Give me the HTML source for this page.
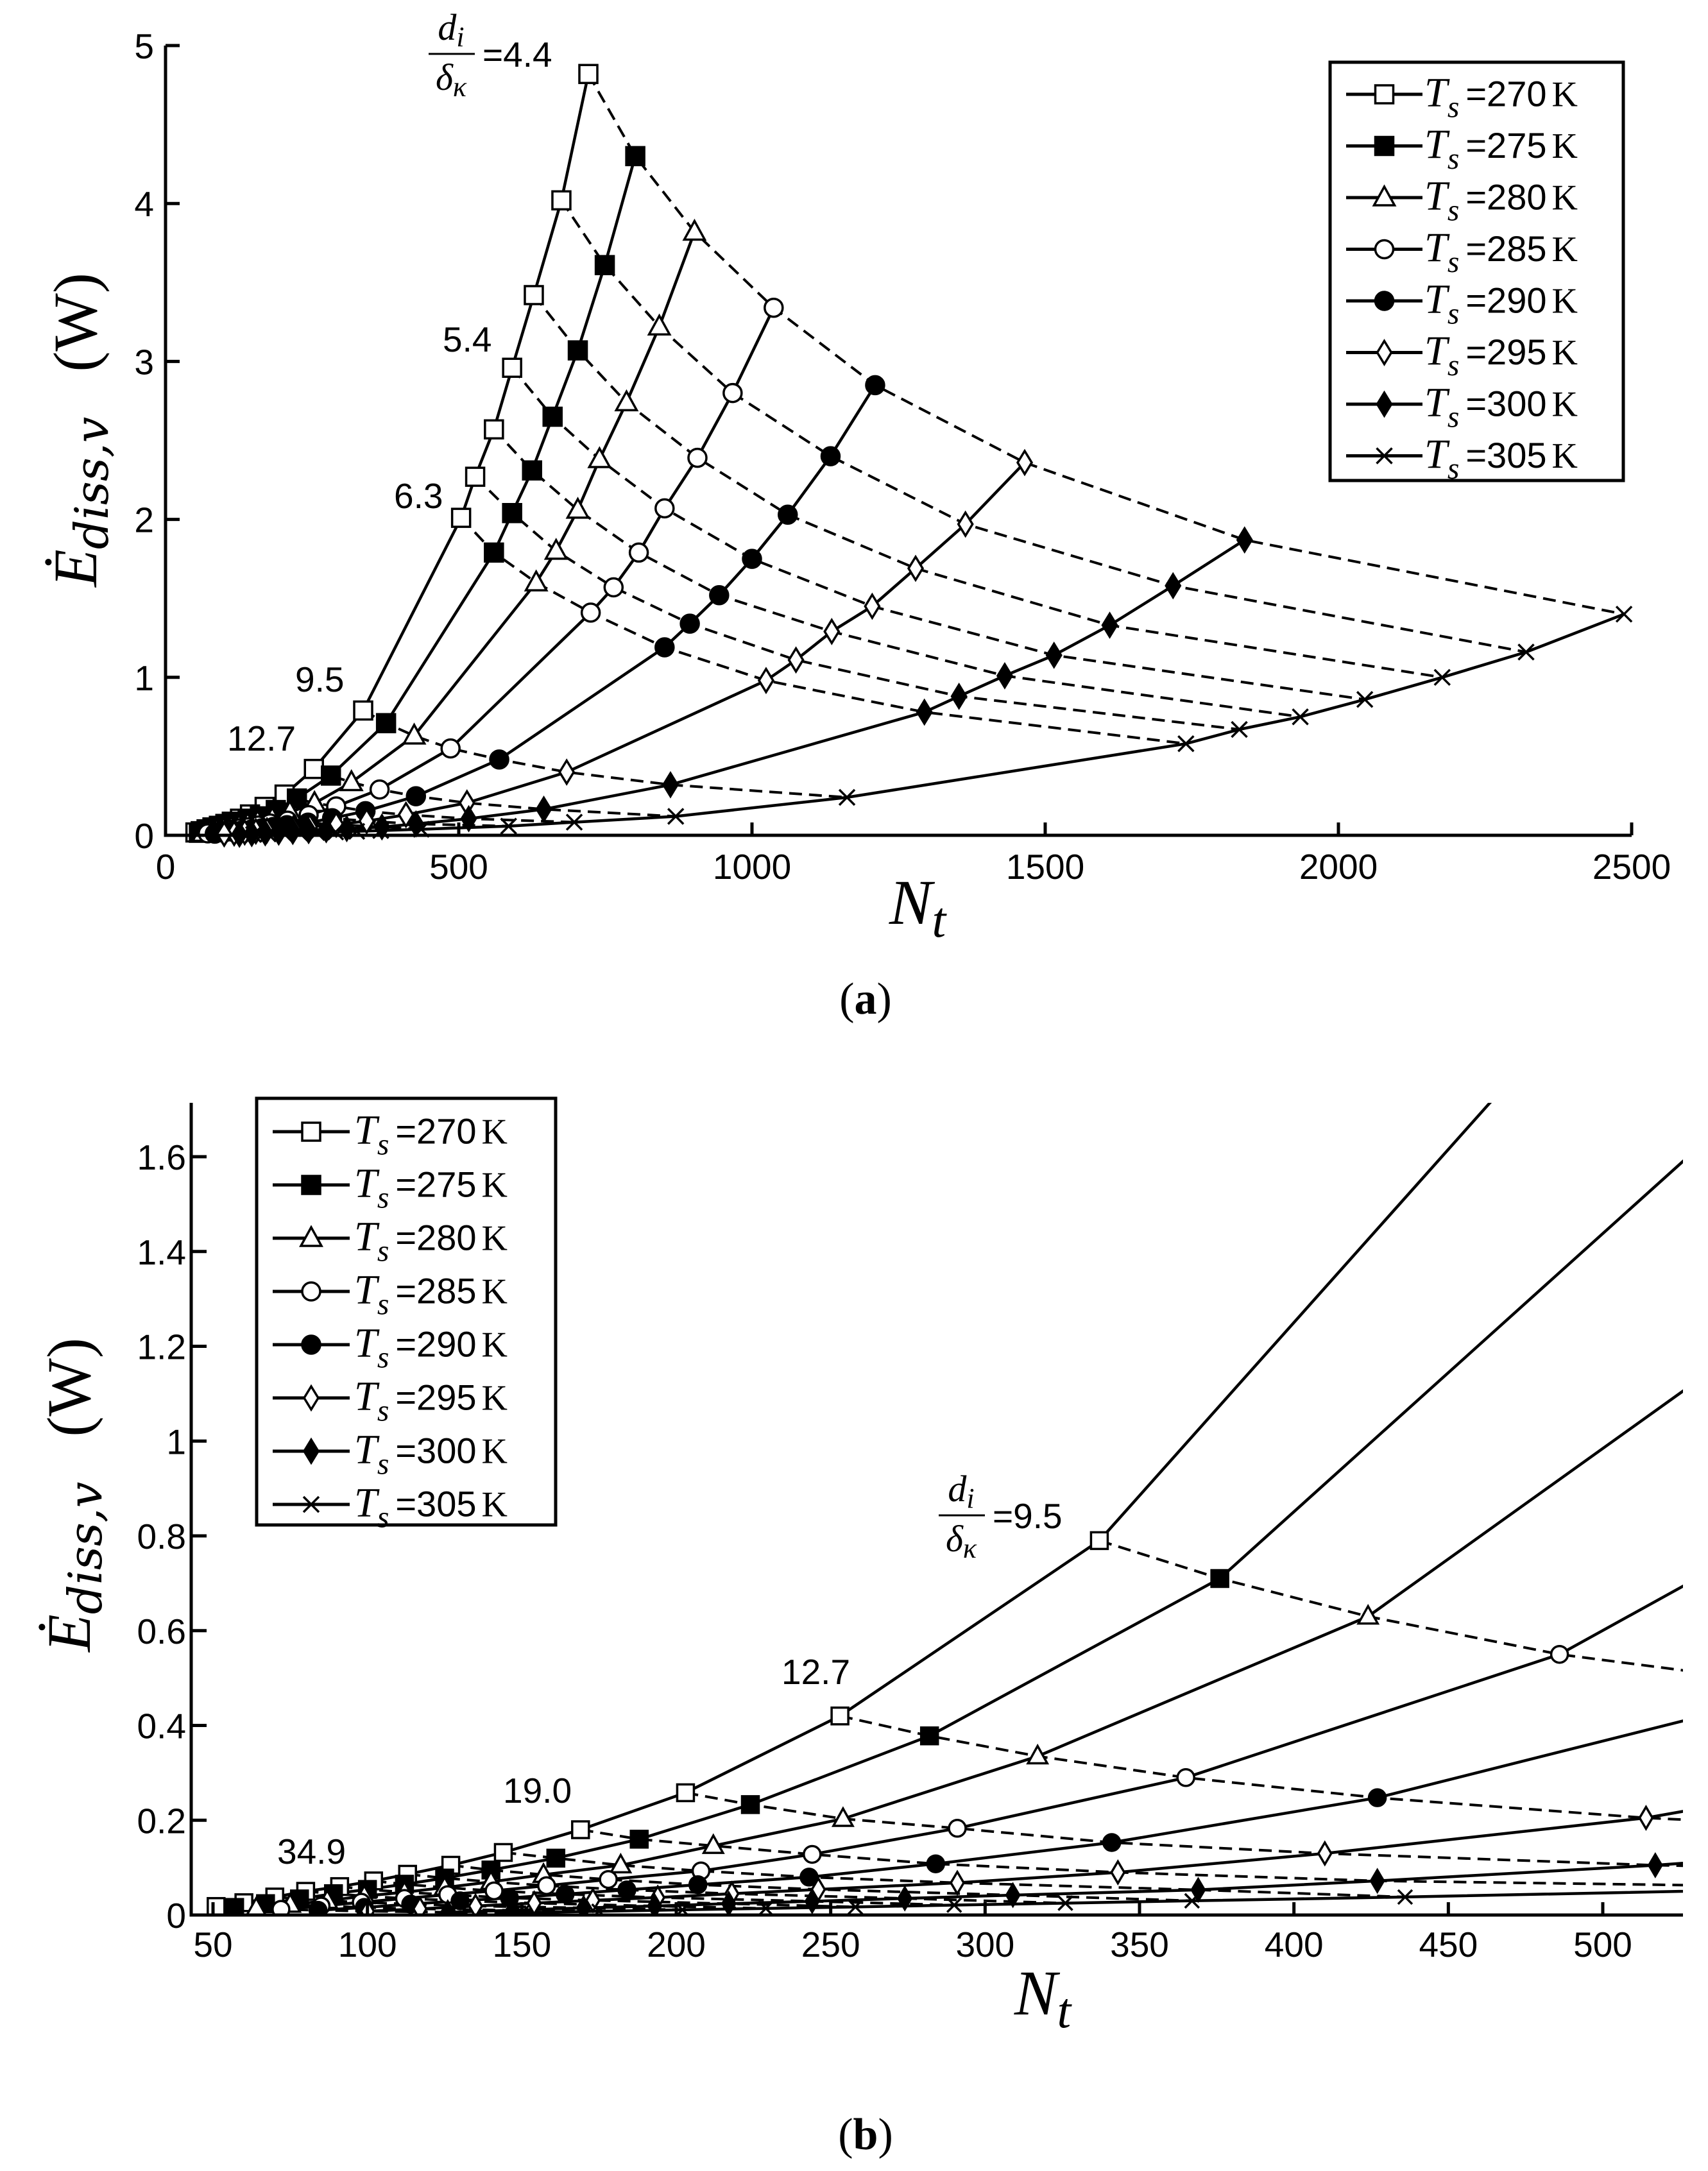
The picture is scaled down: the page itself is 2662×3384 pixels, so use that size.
<!DOCTYPE html>
<html><head><meta charset="utf-8">
<style>
html,body{margin:0;padding:0;background:#fff;}
svg{display:block;}
.tick{font-family:"Liberation Sans",sans-serif;font-size:55px;fill:#000;}
</style></head>
<body>
<svg id="chart" width="2662" height="3384" viewBox="0 0 2662 3384" xmlns="http://www.w3.org/2000/svg">
<defs>
<clipPath id="clipB"><rect x="298" y="1719" width="2325" height="1266"/></clipPath>
</defs>
<rect width="2662" height="3384" fill="#fff"/>
<g id="panelA"></g>
<g id="panelB"></g>
</svg>
<script>
const seriesNames = ['270','275','280','285','290','295','300','305'];
const markers = ['sqOpen','sqFill','triOpen','circOpen','circFill','diaOpen','diaFill','cross'];
const nT270 = [721,675,628,591,560,528,504,337,253,203,169,144,127,113,102,91,80,70,60,51];
const eT270 = [4.82,4.02,3.42,2.96,2.57,2.27,2.01,0.79,0.42,0.258,0.18,0.132,0.105,0.086,0.072,0.06,0.05,0.038,0.026,0.018];
const nT275 = [801,749,703,660,625,591,560,376,282,224,188,161,140,125,112,100,89,78,67,57];
const eT275 = [4.30,3.61,3.07,2.65,2.31,2.04,1.79,0.71,0.378,0.233,0.16,0.12,0.095,0.078,0.065,0.054,0.045,0.034,0.024,0.016];
const nT280 = [902,842,786,740,703,666,632,424,317,254,212,182,157,140,125,112,99,87,75,64];
const eT280 = [3.82,3.22,2.74,2.38,2.06,1.80,1.60,0.63,0.335,0.203,0.146,0.105,0.085,0.07,0.058,0.048,0.04,0.03,0.022,0.014];
const nT285 = [1037,967,907,851,807,764,725,486,365,291,244,208,178,158,141,126,112,98,85,72];
const eT285 = [3.34,2.80,2.39,2.07,1.79,1.57,1.41,0.55,0.29,0.183,0.128,0.093,0.075,0.062,0.051,0.043,0.035,0.027,0.019,0.012];
const nT290 = [1210,1134,1061,1000,944,894,851,569,427,341,284,243,207,184,164,146,130,114,99,84];
const eT290 = [2.85,2.40,2.03,1.75,1.52,1.34,1.19,0.48,0.2475,0.153,0.108,0.08,0.064,0.053,0.044,0.036,0.03,0.023,0.016,0.01];
const nT295 = [1465,1364,1279,1205,1136,1075,1024,684,514,410,343,291,246,218,194,173,154,135,117,100];
const eT295 = [2.36,1.97,1.69,1.45,1.29,1.11,0.98,0.40,0.205,0.13,0.09,0.068,0.054,0.045,0.037,0.031,0.025,0.019,0.013,0.008];
const nT300 = [1840,1718,1610,1515,1431,1353,1294,861,645,517,427,369,309,274,244,217,193,170,147,126];
const eT300 = [1.87,1.58,1.33,1.14,1.01,0.88,0.78,0.32,0.165,0.105,0.072,0.053,0.042,0.035,0.029,0.024,0.019,0.015,0.01,0.006];
const nT305 = [2487,2320,2177,2045,1935,1831,1740,1162,870,697,585,436,367,326,290,258,229,202,175,150];
const eT305 = [1.40,1.16,1.00,0.86,0.75,0.67,0.58,0.24,0.12,0.083,0.058,0.038,0.03,0.025,0.021,0.017,0.014,0.011,0.008,0.005];
const nSeries = [nT270,nT275,nT280,nT285,nT290,nT295,nT300,nT305];
const eSeries = [eT270,eT275,eT280,eT285,eT290,eT295,eT300,eT305];
const ticksXA = [0,500,1000,1500,2000,2500];
const ticksYA = [0,1,2,3,4,5];
const ticksXB = [50,100,150,200,250,300,350,400,450,500];
const ticksYB = [0,0.2,0.4,0.6,0.8,1,1.2,1.4,1.6];
const tickLabelsYB = ['0','0.2','0.4','0.6','0.8','1','1.2','1.4','1.6'];

const NS='http://www.w3.org/2000/svg';
function mk(tag,attrs,parent){const e=document.createElementNS(NS,tag);for(const k in attrs)e.setAttribute(k,attrs[k]);parent.appendChild(e);return e;}

const xA = n => 258 + n*(2543-258)/2500;
const yA = v => 1302 - v*(1302-71)/5;
const xB = n => 332 + (n-50)*(2498-332)/450;
const yB = v => 2985 - v*(2985-1803)/1.6;

function drawMarker(g,type,x,y,s){
  let el;
  const h=s/2;
  if(type==='sqOpen'||type==='sqFill'){
    el=mk('rect',{x:x-h,y:y-h,width:s,height:s,fill:type==='sqFill'?'#000':'#fff',stroke:'#000','stroke-width':3.5},g);
  } else if(type==='triOpen'){
    el=mk('polygon',{points:`${x},${y-h-3} ${x-h-2},${y+h-2} ${x+h+2},${y+h-2}`,fill:'#fff',stroke:'#000','stroke-width':3.5},g);
  } else if(type==='circOpen'||type==='circFill'){
    el=mk('circle',{cx:x,cy:y,r:h,fill:type==='circFill'?'#000':'#fff',stroke:'#000','stroke-width':3.5},g);
  } else if(type==='diaOpen'||type==='diaFill'){
    el=mk('polygon',{points:`${x},${y-h-4} ${x+h-3},${y} ${x},${y+h+4} ${x-h+3},${y}`,fill:type==='diaFill'?'#000':'#fff',stroke:'#000','stroke-width':3.5},g);
  } else {
    el=mk('path',{d:`M${x-h+2},${y-h+2}L${x+h-2},${y+h-2}M${x-h+2},${y+h-2}L${x+h-2},${y-h+2}`,stroke:'#000','stroke-width':3.5,fill:'none'},g);
  }
  
  
}

function drawPanel(g,xf,yf,clip,ms){
  const plot=mk('g',clip?{'clip-path':'url(#clipB)'}:{},g);
  
  
  const nIdx=nSeries[0].length;
  for(let k=0;k<nIdx;k++){
    const pts=nSeries.map((ns,s)=>`${xf(ns[k]).toFixed(1)},${yf(eSeries[s][k]).toFixed(1)}`).join(' ');
    const pl=mk('polyline',{points:pts,fill:'none',stroke:'#000','stroke-width':4,'stroke-dasharray':'20 11'},plot);
    
    
  }
  nSeries.forEach((ns,s)=>{
    const pts=ns.map((n,i)=>`${xf(n).toFixed(1)},${yf(eSeries[s][i]).toFixed(1)}`).join(' ');
    const pl=mk('polyline',{points:pts,fill:'none',stroke:'#000','stroke-width':4.5},plot);
    
    
  });
  nSeries.forEach((ns,s)=>{
    ns.forEach((n,i)=>drawMarker(plot,markers[s],xf(n),yf(eSeries[s][i]),ms));
  });
}

function legend(g,x0,y0,w,h,lx1,lx2,tx,cy0,dy,fs){
  const lg=mk('g',{},g);
  
  
  mk('rect',{x:x0,y:y0,width:w,height:h,fill:'#fff',stroke:'#000','stroke-width':5},lg);
  seriesNames.forEach((nm,s)=>{
    const cy=cy0+s*dy;
    const e=mk('g',{},lg);
    
    
    mk('line',{x1:lx1,y1:cy,x2:lx2,y2:cy,stroke:'#000','stroke-width':5},e);
    drawMarker(e,markers[s],(lx1+lx2)/2,cy,28);
    const t=mk('text',{x:tx,y:cy+fs*0.33,'font-size':fs},e);
    t.innerHTML=`<tspan font-family="Liberation Serif,serif" font-style="italic" font-size="${fs*1.15}">T</tspan><tspan font-family="Liberation Serif,serif" font-style="italic" font-size="${fs*0.85}" dy="${fs*0.3}">s</tspan><tspan font-family="Liberation Sans,sans-serif" dy="${-fs*0.3}" dx="10">=${nm}</tspan><tspan font-family="Liberation Serif,serif" dx="8">K</tspan>`;
  });
}

function txt(g,x,y,s,attrs,name){
  const t=mk('text',Object.assign({x:x,y:y},attrs),g);
  t.textContent=s;
  
  
  return t;
}

function ylabel(g,cx,cy){
  const t=mk('text',{transform:`translate(${cx},${cy}) rotate(-90)`,'text-anchor':'middle','font-size':96},g);
  
  
  t.innerHTML=`<tspan font-family="Liberation Serif,serif" font-style="italic">Ė</tspan><tspan font-family="DejaVu Serif,serif" font-style="italic" font-size="72" dy="18">diss,v</tspan><tspan font-family="Liberation Serif,serif" dy="-18" dx="70">(W)</tspan>`;
}
function xlabel(g,cx,cy){
  const t=mk('text',{x:cx,y:cy,'text-anchor':'middle','font-size':100},g);
  
  
  t.innerHTML=`<tspan font-family="Liberation Serif,serif" font-style="italic">N</tspan><tspan font-family="Liberation Serif,serif" font-style="italic" font-size="78" dy="20">t</tspan>`;
}
function frac(g,x,y,val,name){
  const f=mk('g',{},g);
  
  
  const a=mk('text',{x:x+35,y:y,'text-anchor':'middle','font-size':58,'font-family':'Liberation Serif,serif','font-style':'italic'},f);
  a.innerHTML='d<tspan font-size="44" dy="10">i</tspan>';
  mk('line',{x1:x,y1:y+22,x2:x+72,y2:y+22,stroke:'#000','stroke-width':3},f);
  const b=mk('text',{x:x+35,y:y+78,'text-anchor':'middle','font-size':58,'font-family':'Liberation Serif,serif','font-style':'italic'},f);
  b.innerHTML='δ<tspan font-size="44" dy="10">κ</tspan>';
  const c=mk('text',{x:x+84,y:y+42,'font-size':55,'font-family':'Liberation Sans,sans-serif'},f);
  c.textContent='='+val;
}
function plabel(g,x,y,l,name){
  const t=mk('text',{x:x,y:y,'text-anchor':'middle','font-size':70,'font-family':'Liberation Serif,serif'},g);
  t.innerHTML=`(<tspan font-weight="bold">${l}</tspan>)`;
  
  
}

// ---------- Panel A ----------
const A=document.getElementById('panelA');
drawPanel(A,xA,yA,false,28);
const axA=mk('g',{},A);
mk('path',{d:`M258,71V1302H2543`,fill:'none',stroke:'#000','stroke-width':5},axA);
ticksXA.forEach(v=>{mk('line',{x1:xA(v),y1:1302,x2:xA(v),y2:1282,stroke:'#000','stroke-width':5},axA);
  txt(axA,xA(v),1370,String(v),{'class':'tick','text-anchor':'middle'},'x-tick-label');});
ticksYA.forEach(v=>{mk('line',{x1:258,y1:yA(v),x2:280,y2:yA(v),stroke:'#000','stroke-width':5},axA);
  txt(axA,240,yA(v)+20,String(v),{'class':'tick','text-anchor':'end'},'y-tick-label');});
ylabel(A,150,670);
xlabel(A,1430,1440);
plabel(A,1349,1580,'a','panel-label-a');
frac(A,668,62,'4.4','ratio-label-4-4');
txt(A,690,548,'5.4',{'class':'tick'},'ratio-label-5-4');
txt(A,614,792,'6.3',{'class':'tick'},'ratio-label-6-3');
txt(A,460,1078,'9.5',{'class':'tick'},'ratio-label-9-5');
txt(A,354,1170,'12.7',{'class':'tick'},'ratio-label-12-7');
legend(A,2073,97,457,652,2098,2217,2220,147,80.5,56);

// ---------- Panel B ----------
const B=document.getElementById('panelB');
drawPanel(B,xB,yB,true,26);
const axB=mk('g',{},B);
mk('path',{d:`M298,1719V2985H2623`,fill:'none',stroke:'#000','stroke-width':5},axB);
ticksXB.forEach(v=>{mk('line',{x1:xB(v),y1:2985,x2:xB(v),y2:2965,stroke:'#000','stroke-width':5},axB);
  txt(axB,xB(v),3050,String(v),{'class':'tick','text-anchor':'middle'},'x-tick-label');});
ticksYB.forEach((v,i)=>{mk('line',{x1:298,y1:yB(v),x2:322,y2:yB(v),stroke:'#000','stroke-width':5},axB);
  txt(axB,290,yB(v)+20,tickLabelsYB[i],{'class':'tick','text-anchor':'end'},'y-tick-label');});
ylabel(B,140,2330);
xlabel(B,1625,3140);
plabel(B,1349,3350,'b','panel-label-b');
frac(B,1463,2340,'9.5','ratio-label-9-5-b');
txt(B,1218,2625,'12.7',{'class':'tick'},'ratio-label-12-7-b');
txt(B,784,2810,'19.0',{'class':'tick'},'ratio-label-19-0');
txt(B,432,2905,'34.9',{'class':'tick'},'ratio-label-34-9');
legend(B,400,1712,466,665,425,545,552,1764,83,56);
</script>
</body></html>
